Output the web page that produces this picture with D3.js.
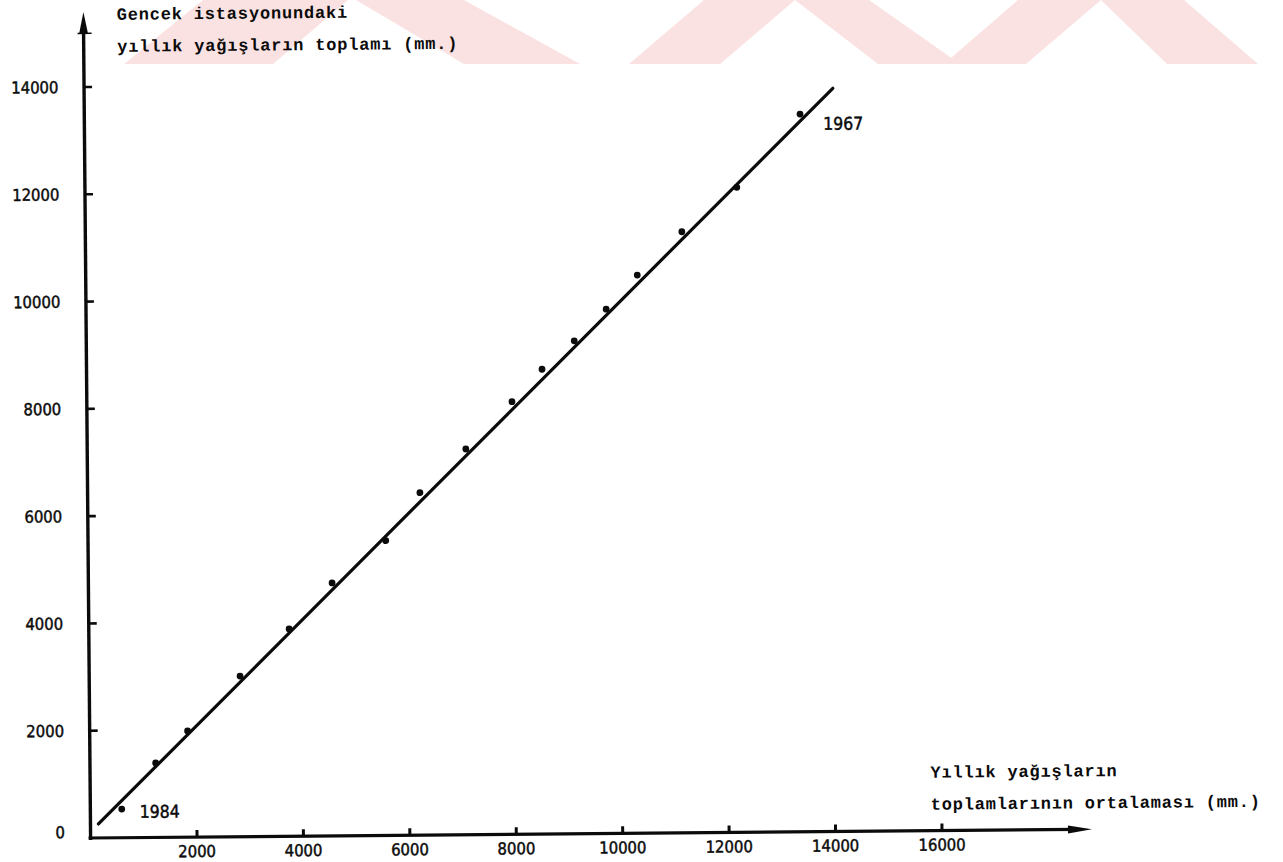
<!DOCTYPE html>
<html>
<head>
<meta charset="utf-8">
<script src="https://cdn.jsdelivr.net/npm/d3@7/dist/d3.min.js"></script>
<style>
  html, body { margin: 0; padding: 0; background: #ffffff; }
  svg { display: block; }
</style>
</head>
<body>
<svg id="chart" width="1283" height="862"></svg>
<script>
// Double-mass curve: cumulative annual rainfall at Gencek station
// against the cumulative mean of the surrounding stations.
const meanCumulative   = [590, 1235, 1840, 2835, 3765, 4580, 5595, 6245, 7115, 7990, 8560, 9170, 9775, 10365, 11210, 12250, 13450];
const gencekCumulative = [535, 1390, 1980, 2995, 3865, 4715, 5495, 6385, 7190, 8065, 8665, 9190, 9775, 10405, 11205, 12025, 13380];

// fitted straight line (start / end)
const trendX = [150, 14070];
const trendY = [260, 13855];

const xTicks = [2000, 4000, 6000, 8000, 10000, 12000, 14000, 16000];
const yTicks = [0, 2000, 4000, 6000, 8000, 10000, 12000, 14000];

const endLabels = [
  { text: "1984", index: 0 },
  { text: "1967", index: meanCumulative.length - 1 }
];

const yTitle = ["Gencek istasyonundaki", "yıllık yağışların toplamı (mm.)"];
const xTitle = ["Yıllık yağışların", "toplamlarının ortalaması (mm.)"];

const svg = d3.select("#chart");

// faint pink stamp behind the upper part of the sheet
const stamp = svg.append("g").attr("fill", "#fbe2e2");
const stampBands = [
  [[203, 0], [348, 0], [273, 64], [124, 64]],
  [[356, 0], [464, 0], [580, 64], [464, 64]],
  [[704, 0], [795, 0], [720, 64], [629, 64]],
  [[795, 0], [869, 0], [960, 64], [878, 64]],
  [[1018, 0], [1101, 0], [1026, 64], [944, 64]],
  [[1101, 0], [1184, 0], [1258, 64], [1167, 64]]
];
stamp.selectAll("polygon").data(stampBands).join("polygon")
  .attr("points", d => d.map(p => p.join(",")).join(" "));

const x = d3.scaleLinear().domain([0, 16000]).range([90.6, 942]);
const y = d3.scaleLinear().domain([0, 14000]).range([838, 87]);

// the whole drawing sits very slightly rotated on the sheet
const g = svg.append("g").attr("transform", `rotate(-0.5, ${x(0)}, ${y(0)})`);

const ink = "#0b0b0b";
const tickFont = "'DejaVu Sans Condensed', 'DejaVu Sans', sans-serif";
const typeFont = "'Liberation Mono', 'DejaVu Sans Mono', monospace";

// axes with arrowheads
const xEnd = 1092, yTop = 12;
g.append("line")
  .attr("x1", x(0) - 2).attr("y1", y(0)).attr("x2", xEnd - 16).attr("y2", y(0))
  .attr("stroke", ink).attr("stroke-width", 3.2);
g.append("path")
  .attr("d", `M${xEnd},${y(0)} L${xEnd - 24},${y(0) - 4} L${xEnd - 24},${y(0) + 4} Z`)
  .attr("fill", ink);

g.append("line")
  .attr("x1", x(0)).attr("y1", y(0) + 2).attr("x2", x(0)).attr("y2", yTop + 16)
  .attr("stroke", ink).attr("stroke-width", 3.4);
g.append("path")
  .attr("d", `M${x(0)},${yTop} L${x(0) - 4.5},${yTop + 22} L${x(0) + 4.5},${yTop + 22} Z`)
  .attr("fill", ink);
// short cross mark just under the arrowhead
g.append("line")
  .attr("x1", x(0) - 6).attr("x2", x(0) + 8)
  .attr("y1", y(15000)).attr("y2", y(15000))
  .attr("stroke", ink).attr("stroke-width", 1.6);

// y ticks and labels
g.selectAll(".ytick").data(yTicks.filter(v => v > 0)).join("line")
  .attr("class", "ytick")
  .attr("x1", x(0)).attr("x2", x(0) + 8)
  .attr("y1", d => y(d)).attr("y2", d => y(d))
  .attr("stroke", ink).attr("stroke-width", 2.6);
g.selectAll(".ylab").data(yTicks).join("text")
  .attr("class", "ylab")
  .attr("x", 65).attr("y", d => y(d) - (d === 0 ? 6 : 0))
  .attr("dy", "0.36em")
  .attr("text-anchor", "end")
  .attr("font-family", tickFont).attr("font-size", 16.5)
  .attr("fill", ink).attr("stroke", ink).attr("stroke-width", 0.45)
  .text(d => d);

// x ticks and labels
g.selectAll(".xtick").data(xTicks).join("line")
  .attr("class", "xtick")
  .attr("x1", d => x(d)).attr("x2", d => x(d))
  .attr("y1", y(0)).attr("y2", y(0) - 7)
  .attr("stroke", ink).attr("stroke-width", 3);
g.selectAll(".xlab").data(xTicks).join("text")
  .attr("class", "xlab")
  .attr("x", d => x(d)).attr("y", y(0) + 20)
  .attr("text-anchor", "middle")
  .attr("font-family", tickFont).attr("font-size", 16.5)
  .attr("fill", ink).attr("stroke", ink).attr("stroke-width", 0.45)
  .text(d => d);

// fitted line
g.append("line")
  .attr("x1", x(trendX[0])).attr("y1", y(trendY[0]))
  .attr("x2", x(trendX[1])).attr("y2", y(trendY[1]))
  .attr("stroke", ink).attr("stroke-width", 3.2).attr("stroke-linecap", "round");

// cumulative points
g.selectAll(".pt").data(meanCumulative).join("circle")
  .attr("class", "pt")
  .attr("cx", d => x(d))
  .attr("cy", (d, i) => y(gencekCumulative[i]))
  .attr("r", 3.4)
  .attr("fill", ink);

// year labels at both ends of the curve
const labelOffset = { "1984": [18, 9], "1967": [23, 16] };
g.selectAll(".yr").data(endLabels).join("text")
  .attr("class", "yr")
  .attr("x", d => x(meanCumulative[d.index]) + labelOffset[d.text][0])
  .attr("y", d => y(gencekCumulative[d.index]) + labelOffset[d.text][1])
  .attr("font-family", tickFont).attr("font-size", 17.5)
  .attr("fill", ink).attr("stroke", ink).attr("stroke-width", 0.45)
  .text(d => d.text);

// axis titles
g.selectAll(".ytitle").data(yTitle).join("text")
  .attr("class", "ytitle")
  .attr("x", 124).attr("y", (d, i) => 20 + i * 32)
  .attr("font-family", typeFont).attr("font-weight", "bold")
  .attr("font-size", 17).attr("letter-spacing", 0.8)
  .attr("fill", ink)
  .text(d => d);

g.selectAll(".xtitle").data(xTitle).join("text")
  .attr("class", "xtitle")
  .attr("x", 931).attr("y", (d, i) => 785 + i * 32)
  .attr("font-family", typeFont).attr("font-weight", "bold")
  .attr("font-size", 17).attr("letter-spacing", 0.8)
  .attr("fill", ink)
  .text(d => d);
</script>
</body>
</html>
